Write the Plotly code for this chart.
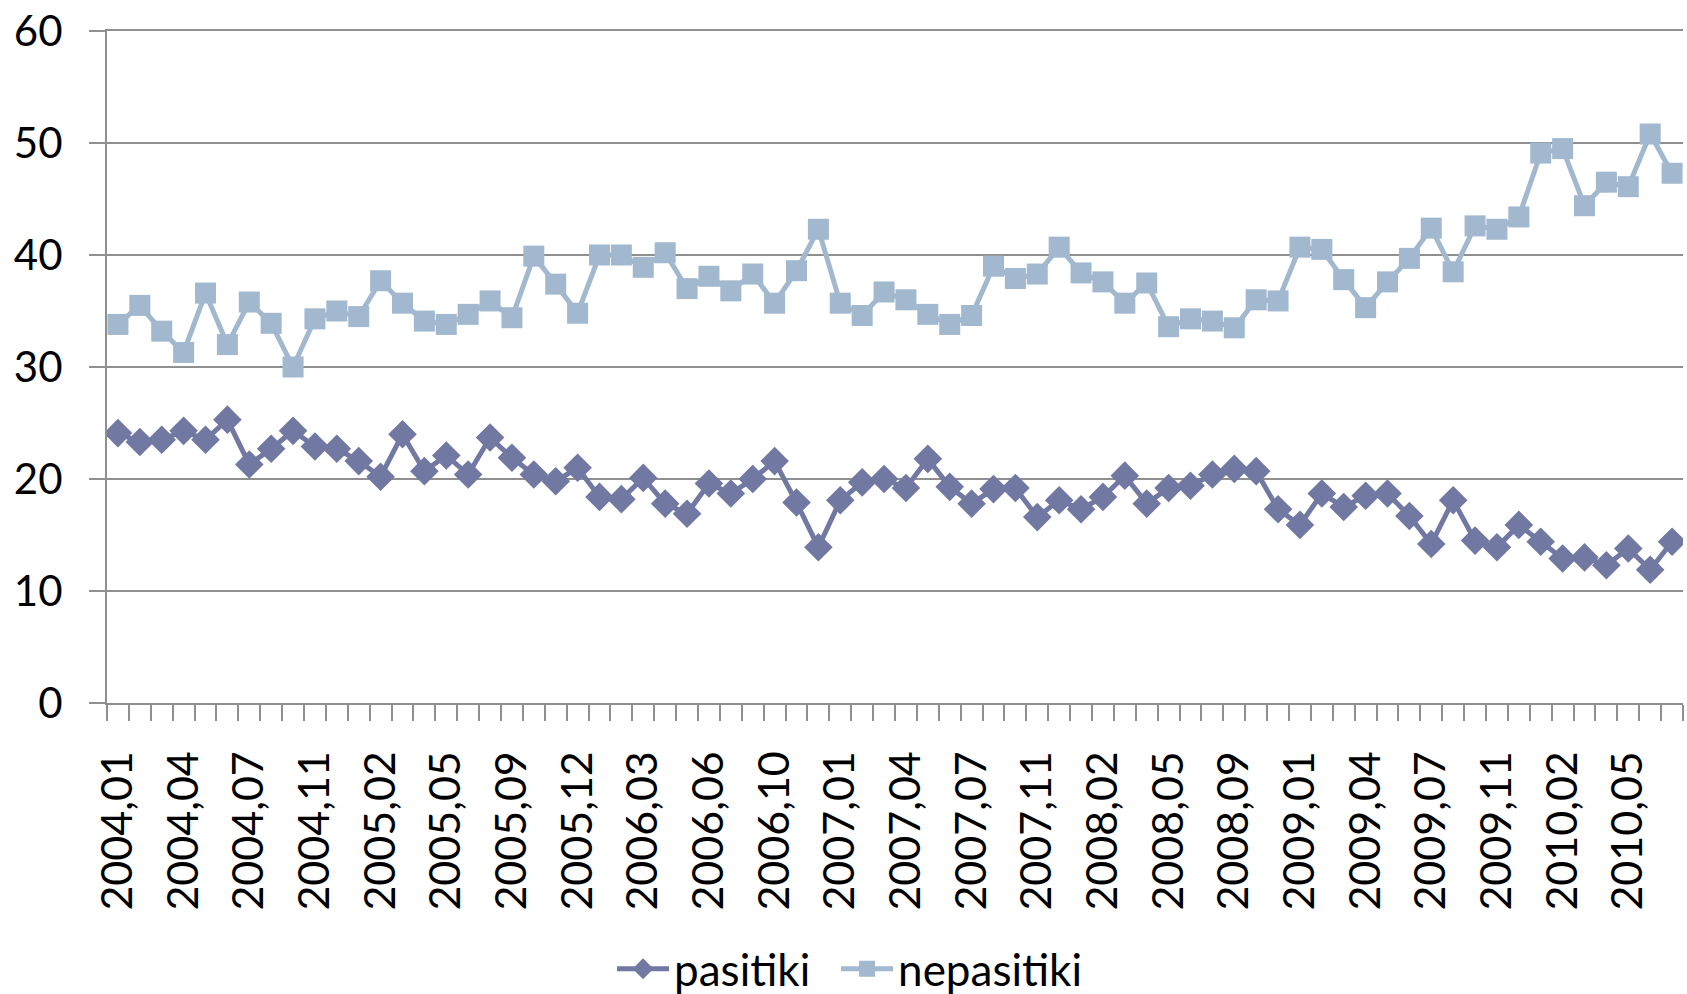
import plotly.graph_objects as go

months = [
    "2004,01", "2004,02", "2004,03", "2004,04", "2004,05", "2004,06", "2004,07", "2004,09", "2004,10",
    "2004,11", "2004,12", "2005,01", "2005,02", "2005,03", "2005,04", "2005,05", "2005,06", "2005,07",
    "2005,09", "2005,10", "2005,11", "2005,12", "2006,01", "2006,02", "2006,03", "2006,04", "2006,05",
    "2006,06", "2006,07", "2006,09", "2006,10", "2006,11", "2006,12", "2007,01", "2007,02", "2007,03",
    "2007,04", "2007,05", "2007,06", "2007,07", "2007,09", "2007,10", "2007,11", "2007,12", "2008,01",
    "2008,02", "2008,03", "2008,04", "2008,05", "2008,06", "2008,07", "2008,09", "2008,10", "2008,11",
    "2009,01", "2009,02", "2009,03", "2009,04", "2009,05", "2009,06", "2009,07", "2009,09", "2009,10",
    "2009,11", "2009,12", "2010,01", "2010,02", "2010,03", "2010,04", "2010,05", "2010,06", "2010,07",
]

pasitiki = [
    24.1, 23.3, 23.5, 24.3, 23.5, 25.3, 21.3, 22.7, 24.3, 22.9, 22.7, 21.6,
    20.2, 24.0, 20.7, 22.1, 20.4, 23.7, 21.9, 20.4, 19.8, 21.0, 18.4, 18.2,
    20.1, 17.8, 16.9, 19.6, 18.7, 20.0, 21.6, 17.9, 13.9, 18.1, 19.7, 20.0,
    19.2, 21.8, 19.3, 17.8, 19.1, 19.2, 16.6, 18.1, 17.3, 18.4, 20.3, 17.8,
    19.2, 19.4, 20.4, 20.9, 20.7, 17.3, 15.9, 18.7, 17.5, 18.5, 18.7, 16.7,
    14.2, 18.1, 14.5, 13.9, 15.9, 14.4, 12.9, 13.0, 12.3, 13.8, 11.9, 14.4,
]

nepasitiki = [
    33.8, 35.5, 33.2, 31.3, 36.6, 32.0, 35.8, 33.9, 30.0, 34.3, 35.0, 34.5,
    37.7, 35.7, 34.1, 33.8, 34.7, 35.9, 34.4, 39.9, 37.4, 34.8, 40.0, 40.0,
    38.9, 40.2, 37.0, 38.1, 36.8, 38.3, 35.7, 38.6, 42.3, 35.7, 34.6, 36.7,
    36.0, 34.7, 33.8, 34.6, 39.0, 37.9, 38.3, 40.7, 38.4, 37.6, 35.7, 37.5,
    33.6, 34.3, 34.1, 33.5, 36.0, 35.9, 40.7, 40.5, 37.8, 35.3, 37.6, 39.7,
    42.4, 38.5, 42.6, 42.3, 43.4, 49.1, 49.5, 44.4, 46.5, 46.1, 50.8, 47.3,
]

tick_labels = [m if i % 3 == 0 else "" for i, m in enumerate(months)]

FONT = "Lato, 'Open Sans', sans-serif"
GRID = "#8f8f8f"

fig = go.Figure()
fig.add_trace(go.Scatter(
    x=months, y=pasitiki, name="pasitiki", mode="lines+markers",
    line=dict(color="#7179A2", width=5),
    marker=dict(symbol="diamond", size=22, color="#7179A2"),
    legend="legend",
))
fig.add_trace(go.Scatter(
    x=months, y=nepasitiki, name="nepasitiki", mode="lines+markers",
    line=dict(color="#A1B8CE", width=5),
    marker=dict(symbol="square", size=21, color="#A1B8CE"),
    legend="legend2",
))

legend_common = dict(
    orientation="h", xref="container", yref="container",
    xanchor="left", y=0.025, yanchor="middle",
    font=dict(family=FONT, size=44, color="black"),
    itemwidth=52, bgcolor="rgba(0,0,0,0)",
)

fig.update_layout(
    width=1687, height=994,
    margin=dict(l=107, r=4, t=31, b=291, autoexpand=False),
    paper_bgcolor="white", plot_bgcolor="white",
    font=dict(family=FONT, size=42, color="black"),
    showlegend=True,
    legend=dict(x=0.3628, **legend_common),
    legend2=dict(x=0.4956, **legend_common),
    xaxis=dict(
        type="category", categoryorder="array", categoryarray=months,
        tickmode="array", tickvals=months, ticktext=tick_labels,
        tickangle=-90, tickson="boundaries",
        ticks="outside", ticklen=16, tickwidth=2, tickcolor=GRID,
        showline=True, linecolor=GRID, linewidth=2, mirror=True,
        showgrid=False, ticklabelstandoff=29,
        tickfont=dict(family=FONT, size=43, color="black"),
        range=[-0.5, len(months) - 0.5],
    ),
    yaxis=dict(
        range=[0, 60], tickvals=[0, 10, 20, 30, 40, 50, 60],
        ticks="outside", ticklen=16, tickwidth=2, tickcolor=GRID,
        showline=True, linecolor=GRID, linewidth=2,
        showgrid=True, gridcolor=GRID, gridwidth=2,
        zeroline=False, ticklabelstandoff=18,
        tickfont=dict(family=FONT, size=42, color="black"),
    ),
)

fig.write_html(
    "out.html",
    config={"displayModeBar": False},
    post_script="document.body.style.margin='0';document.body.style.overflow='hidden';",
)
